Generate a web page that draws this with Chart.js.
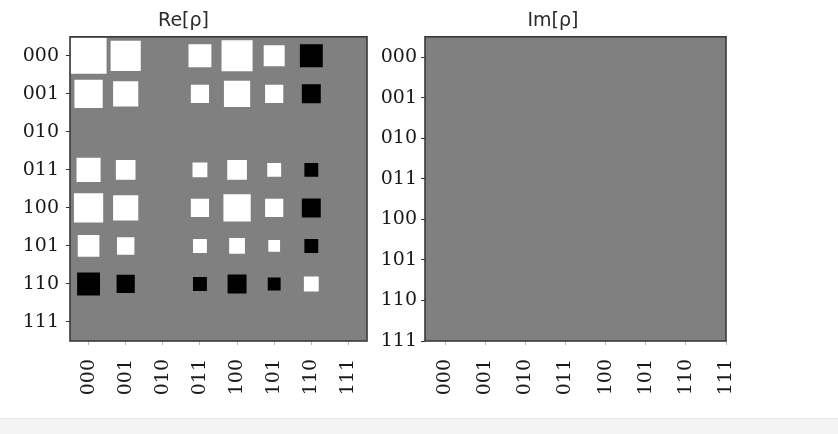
<!DOCTYPE html>
<html>
<head>
<meta charset="utf-8">
<script src="https://cdn.jsdelivr.net/npm/chart.js@4"></script>
<style>
  body { margin: 0; background: #fff; width: 838px; height: 434px; overflow: hidden; position: relative; }
  canvas { position: absolute; top: 0; }
  #re { left: 0; }
  #im { left: 380px; }
  .strip { position: absolute; left: 0; top: 418px; width: 838px; height: 16px; background: #f3f3f3; border-top: 1px solid #e6e6e6; }
</style>
</head>
<body>
<canvas id="re" width="380" height="434"></canvas>
<canvas id="im" width="458" height="434"></canvas>
<div class="strip"></div>
<script>
// basis states, used for both axes
const states = ["000", "001", "010", "011", "100", "101", "110", "111"];

// Re[rho], one row per displayed row
const re000 = [0.47, 0.33, 0, 0.19, 0.35, 0.16, -0.19, 0];
const re001 = [0.29, 0.23, 0, 0.12, 0.25, 0.12, -0.13, 0];
const re010 = [0, 0, 0, 0, 0, 0, 0, 0];
const re011 = [0.21, 0.14, 0, 0.08, 0.14, 0.07, -0.07, 0];
const re100 = [0.31, 0.23, 0, 0.12, 0.27, 0.12, -0.13, 0];
const re101 = [0.17, 0.11, 0, 0.07, 0.09, 0.05, -0.07, 0];
const re110 = [-0.19, -0.12, 0, -0.07, -0.13, -0.06, 0.08, 0];
const re111 = [0, 0, 0, 0, 0, 0, 0, 0];
const reRows = [re000, re001, re010, re011, re100, re101, re110, re111];

// Im[rho] is all zero
const im000 = [0, 0, 0, 0, 0, 0, 0, 0];
const im001 = [0, 0, 0, 0, 0, 0, 0, 0];
const im010 = [0, 0, 0, 0, 0, 0, 0, 0];
const im011 = [0, 0, 0, 0, 0, 0, 0, 0];
const im100 = [0, 0, 0, 0, 0, 0, 0, 0];
const im101 = [0, 0, 0, 0, 0, 0, 0, 0];
const im110 = [0, 0, 0, 0, 0, 0, 0, 0];
const im111 = [0, 0, 0, 0, 0, 0, 0, 0];
const imRows = [im000, im001, im010, im011, im100, im101, im110, im111];

const maxWeight = 2 ** Math.ceil(Math.log2(Math.max(...reRows.flat().map(Math.abs))));

function cells(rows) {
  const pts = [];
  rows.forEach((row, r) => row.forEach((v, c) => {
    if (v !== 0) pts.push({ x: c, y: r, v: v });
  }));
  return pts;
}

// gray plot background + dark frame
const frame = {
  id: "frame",
  beforeDraw(chart) {
    const a = chart.chartArea, g = chart.ctx;
    g.save();
    g.fillStyle = "#808080";
    g.fillRect(a.left, a.top, a.width, a.height);
    g.restore();
  },
  afterDraw(chart) {
    const a = chart.chartArea, g = chart.ctx;
    g.save();
    g.strokeStyle = "#3a3a3a";
    g.lineWidth = 1.6;
    g.strokeRect(a.left, a.top, a.width, a.height);
    g.restore();
  },
};

const tickFont = { family: "DejaVu Serif", size: 19 };

function hinton(id, rows, title, xMax, yMax, yWidth, padRight, yPad) {
  return new Chart(document.getElementById(id), {
    type: "scatter",
    data: {
      datasets: [{
        data: cells(rows),
        pointStyle: "rect",
        pointBorderWidth: 0,
        pointBackgroundColor: (ctx) => (ctx.raw && ctx.raw.v > 0 ? "#ffffff" : "#000000"),
        pointRadius: (ctx) => {
          if (!ctx.raw) return 0;
          const s = ctx.chart.scales.x;
          const unit = Math.abs(s.getPixelForValue(1) - s.getPixelForValue(0));
          return Math.sqrt(Math.abs(ctx.raw.v) / maxWeight) * unit / Math.SQRT2;
        },
        pointHoverRadius: 0,
      }],
    },
    options: {
      responsive: false,
      animation: false,
      events: [],
      layout: { padding: { top: 0, right: padRight, bottom: 0, left: 0 } },
      plugins: {
        legend: { display: false },
        tooltip: { enabled: false },
        title: {
          display: true,
          text: title,
          color: "#2a2a2a",
          font: { family: "DejaVu Sans", size: 19, weight: "normal" },
          padding: { top: 10, bottom: 4 },
        },
      },
      scales: {
        x: {
          type: "linear",
          min: -0.5,
          max: xMax,
          afterBuildTicks: (s) => { s.ticks = states.map((_, i) => ({ value: i })); },
          afterFit: (s) => { s.height = 93; s.paddingLeft = 0; s.paddingRight = 0; },
          border: { display: false },
          grid: { drawOnChartArea: false, tickLength: 4, tickColor: "#bbbbbb" },
          ticks: {
            autoSkip: false,
            minRotation: 90,
            maxRotation: 90,
            padding: 14,
            color: "#1a1a1a",
            font: tickFont,
            callback: (v) => states[v],
          },
        },
        y: {
          type: "linear",
          reverse: true,
          min: -0.5,
          max: yMax,
          afterBuildTicks: (s) => { s.ticks = states.map((_, i) => ({ value: i })); },
          afterFit: (s) => { s.width = yWidth; s.paddingTop = 0; s.paddingBottom = 0; },
          border: { display: false },
          grid: { drawOnChartArea: false, tickLength: 4, tickColor: "#333" },
          ticks: {
            autoSkip: false,
            padding: yPad,
            color: "#1a1a1a",
            font: tickFont,
            callback: (v) => states[v],
          },
        },
      },
    },
    plugins: [frame],
  });
}

hinton("re", reRows, "Re[ρ]", 7.5, 7.5, 70, 13, 7);
hinton("im", imRows, "Im[ρ]", 7, 7, 45, 112, 4);
</script>
</body>
</html>
